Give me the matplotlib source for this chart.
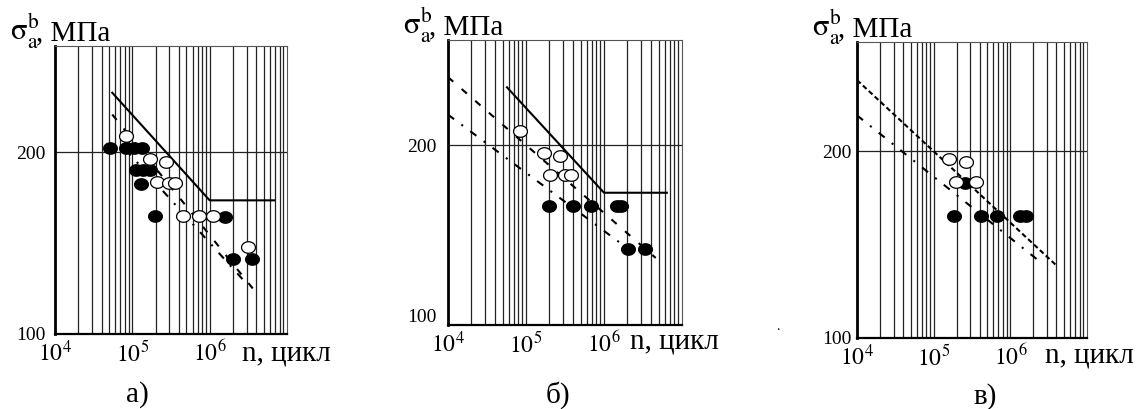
import matplotlib
matplotlib.use('Agg')
import matplotlib.pyplot as plt
import matplotlib.ticker as mticker
import matplotlib.transforms as mtransforms
import numpy as np

plt.rcParams['font.family'] = ['Liberation Serif', 'DejaVu Serif']
plt.rcParams['mathtext.fontset'] = 'stix'
plt.rcParams['lines.scale_dashes'] = False

# --- panel а) ---
a_filled_n = [5.2e4, 8.2e4, 1.04e5, 1.32e5, 1.1e5, 1.37e5, 1.68e5, 1.28e5, 1.95e5, 1.6e6, 2.03e6, 3.48e6]
a_filled_s = [203, 203, 203, 203, 187, 187, 187, 177, 157, 156, 133, 133]
a_open_n = [8.4e4, 1.68e5, 2.72e5, 2.07e5, 2.97e5, 3.56e5, 4.53e5, 7.31e5, 1.11e6, 3.09e6]
a_open_s = [212.7, 194.7, 192.5, 178.3, 177.6, 177.6, 157.1, 157.1, 157.1, 139.1]
a_solid_n = [5.5e4, 1.0e6, 6.8e6]
a_solid_s = [251, 166.5, 166.5]
a_dash_n = [5.5e4, 3.7e6]
a_dash_s = [231, 118.5]
a_dashdot_n = [8.2e4, 2.7e6]
a_dashdot_s = [202, 123]

# --- panel б) ---
b_filled_n = [1.95e5, 4.03e5, 6.87e5, 1.45e6, 1.65e6, 2.03e6, 3.33e6]
b_filled_s = [158, 158, 158, 158, 158, 134, 134]
b_open_n = [8.3e4, 1.69e5, 2.71e5, 2.01e5, 3.2e5, 3.72e5]
b_open_s = [211, 194, 192, 178, 178, 178]
b_solid_n = [5.7e4, 1.0e6, 6.4e6]
b_solid_s = [250, 166.5, 166.5]
b_dash_n = [1e4, 4.6e6]
b_dash_s = [260, 129.5]
b_dashdot_n = [1e4, 2.7e6]
b_dashdot_s = [225, 130.5]

# --- panel в) ---
c_filled_n = [1.85e5, 2.55e5, 4.1e5, 6.7e5, 1.35e6, 1.6e6]
c_filled_s = [157, 177.5, 157, 157, 157, 157]
c_open_n = [1.6e5, 2.67e5, 1.95e5, 3.54e5]
c_open_s = [194.5, 192, 178.5, 178.5]
c_dash_n = [1e4, 4.1e6]
c_dash_s = [260.5, 130.5]
c_dashdot_n = [1e4, 2.3e6]
c_dashdot_s = [228.5, 133.5]

x_major = [1e4, 1e5, 1e6]
x_major_labels = [r'$10^{4}$', r'$10^{5}$', r'$10^{6}$']
y_major = [100, 200]
y_major_labels = ['100', '200']
panel_letters = ['а)', 'б)', 'в)']

W, H = 1138, 409
fig = plt.figure(figsize=(W / 100, H / 100), dpi=100)

# axes boxes in pixels: left, top, right, bottom
boxes = [(55, 46, 287, 334), (448, 40, 682, 325), (857, 42, 1087, 338)]
letter_pos = [(137, 395), (558, 395), (985, 397)]
xlabel_off = [(187, -26), (182, -23), (188, -24)]
ylab_pad = [7, 8, 4]

t = np.linspace(0, 2 * np.pi, 40)
ellipse = np.column_stack([1.2 * np.cos(t), np.sin(t)])

minor = [k * 10 ** e for e in (4, 5, 6) for k in range(2, 10)]

panels = [
    dict(fn=a_filled_n, fs=a_filled_s, on=a_open_n, os=a_open_s,
         sn=a_solid_n, ss=a_solid_s, dn=a_dash_n, ds=a_dash_s,
         ddn=a_dashdot_n, dds=a_dashdot_s, short=False),
    dict(fn=b_filled_n, fs=b_filled_s, on=b_open_n, os=b_open_s,
         sn=b_solid_n, ss=b_solid_s, dn=b_dash_n, ds=b_dash_s,
         ddn=b_dashdot_n, dds=b_dashdot_s, short=False),
    dict(fn=c_filled_n, fs=c_filled_s, on=c_open_n, os=c_open_s,
         sn=None, ss=None, dn=c_dash_n, ds=c_dash_s,
         ddn=c_dashdot_n, dds=c_dashdot_s, short=True),
]

for i, p in enumerate(panels):
    l, tp, r, b = boxes[i]
    ax = fig.add_axes([l / W, 1 - b / H, (r - l) / W, (b - tp) / H])
    ax.set_xscale('log')
    ax.set_yscale('log')
    ax.set_xlim(1e4, 1e7)
    ax.set_ylim(100, 300)

    ax.xaxis.set_major_locator(mticker.FixedLocator(x_major))
    ax.xaxis.set_major_formatter(mticker.FixedFormatter(x_major_labels))
    ax.xaxis.set_minor_locator(mticker.FixedLocator(minor))
    ax.xaxis.set_minor_formatter(mticker.NullFormatter())
    ax.yaxis.set_major_locator(mticker.FixedLocator(y_major))
    ax.yaxis.set_major_formatter(mticker.FixedFormatter(y_major_labels))
    ax.yaxis.set_minor_locator(mticker.NullLocator())
    ax.tick_params(which='both', length=0)
    ax.tick_params(axis='x', which='major', pad=5, labelsize=17)
    ax.tick_params(axis='y', which='major', pad=ylab_pad[i], labelsize=14)

    ax.grid(True, which='both', axis='x', color='#222222', lw=0.9)
    ax.grid(True, which='major', axis='y', color='#222222', lw=0.9)
    ax.set_axisbelow(True)

    ax.spines['left'].set_linewidth(2.0)
    ax.spines['bottom'].set_linewidth(1.6)
    ax.spines['top'].set_linewidth(0.8)
    ax.spines['right'].set_linewidth(0.8)
    ax.spines['top'].set_color('#555555')
    ax.spines['right'].set_color('#555555')

    if i == 1:
        # the "100" label sits a bit higher in this panel
        fig.canvas.draw()
        lab = ax.yaxis.get_major_ticks()[0].label1
        lab.set_transform(lab.get_transform() +
                          mtransforms.ScaledTranslation(0, 10 / 100, fig.dpi_scale_trans))

    # lines
    if p['sn'] is not None:
        ax.plot(p['sn'], p['ss'], color='black', lw=1.5, zorder=3)
    dl, = ax.plot(p['dn'], p['ds'], color='black', lw=1.5, zorder=3)
    if p['short']:
        dl.set_dashes((3.6, 2.2))
    else:
        dl.set_dashes((5, 8))
    ddl, = ax.plot(p['ddn'], p['dds'], color='black', lw=1.5, zorder=3)
    ddl.set_dashes((5.5, 6.5, 1.5, 6.5))

    # experimental points
    ax.plot(p['fn'], p['fs'], ls='none', marker=ellipse, ms=10,
            mfc='black', mec='black', mew=0.8, zorder=4)
    ax.plot(p['on'], p['os'], ls='none', marker=ellipse, ms=10,
            mfc='white', mec='black', mew=0.9, zorder=5)

    # axis titles
    ax.annotate(r'$\mathrm{\sigma}_{\mathrm{a}}^{\mathrm{b}}$', xy=(0, 1), xycoords='axes fraction',
                xytext=(-45, 6), textcoords='offset pixels',
                fontsize=22, va='baseline', ha='left')
    ax.annotate(', МПа', xy=(0, 1), xycoords='axes fraction',
                xytext=(-19, 6), textcoords='offset pixels',
                fontsize=21, va='baseline', ha='left')
    ax.annotate('n, цикл', xy=(0, 0), xycoords='axes fraction',
                xytext=xlabel_off[i], textcoords='offset pixels',
                fontsize=21, va='baseline', ha='left')

    lx, ly = letter_pos[i]
    fig.text(lx / W, 1 - ly / H, panel_letters[i], fontsize=21,
             ha='center', va='center')

fig.text(778 / W, 1 - 327 / H, '.', fontsize=10, ha='center', va='center')

fig.savefig('out.png', dpi=100)
